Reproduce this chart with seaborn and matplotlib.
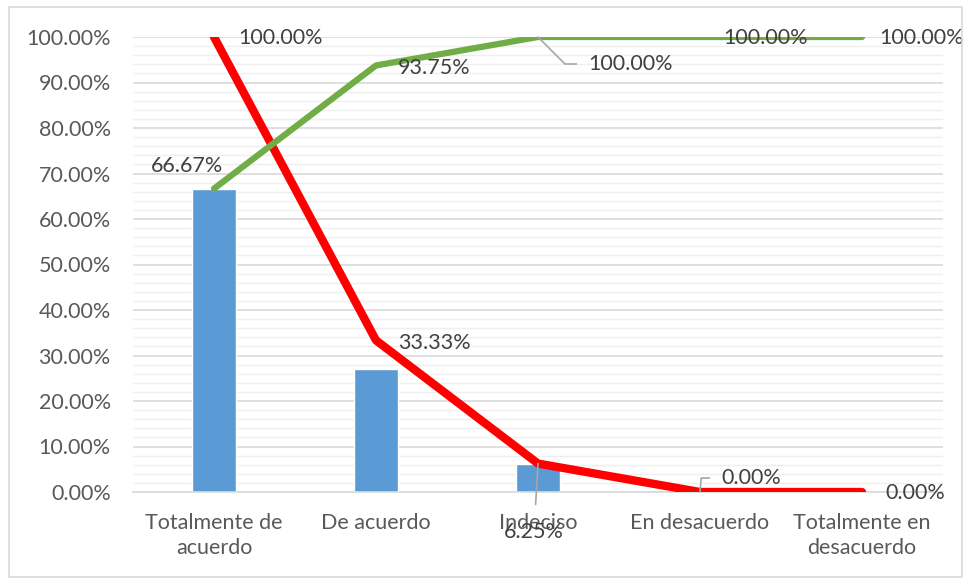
import numpy as np
import pandas as pd
import matplotlib.pyplot as plt
import seaborn as sns
from matplotlib.ticker import MultipleLocator, FixedLocator
from matplotlib.patches import Rectangle

# datos
categorias = ['Totalmente de\nacuerdo', 'De acuerdo', 'Indeciso', 'En desacuerdo', 'Totalmente en\ndesacuerdo']
porcentaje = [66.67, 27.08, 6.25, 0.00, 0.00]
acumulado = [66.67, 93.75, 100.00, 100.00, 100.00]
restante = [100.00, 33.33, 6.25, 0.00, 0.00]

df = pd.DataFrame({'cat': categorias, 'pct': porcentaje, 'acum': acumulado, 'rest': restante})

sns.set_style('white')
plt.rcParams['font.family'] = ['Lato', 'DejaVu Sans']

fig = plt.figure(figsize=(9.65, 5.79), dpi=100)
ax = fig.add_axes([133 / 965, 1 - 492 / 579, (943 - 133) / 965, (492 - 37) / 579])

# marco exterior
fig.patches.append(Rectangle((9 / 965, 2 / 579), 953 / 965, 570 / 579, transform=fig.transFigure,
                             fill=False, edgecolor='#d9d9d9', linewidth=1.2))

sns.barplot(data=df, x='cat', y='pct', color='#5B9BD5', width=0.27, saturation=1, ax=ax, zorder=2)
sns.lineplot(data=df, x='cat', y='rest', sort=False, color='#FF0000', linewidth=6,
             solid_capstyle='round', ax=ax, zorder=3)
sns.lineplot(data=df, x='cat', y='acum', sort=False, color='#70AD47', linewidth=4.5,
             solid_capstyle='round', ax=ax, zorder=4)

ax.set_xlim(-0.5, 4.5)
ax.set_ylim(0, 100)
ax.set_xlabel('')
ax.set_ylabel('')

ax.yaxis.set_minor_locator(MultipleLocator(2))
ax.set_yticks(np.arange(0, 101, 10))
ax.set_yticklabels([f'{v:.2f}%' for v in np.arange(0, 101, 10)])
ax.grid(axis='y', which='major', color='#d9d9d9', linewidth=1.2, zorder=0)
ax.grid(axis='y', which='minor', color='#efefef', linewidth=1.0, zorder=0)
ax.set_axisbelow(True)

ax.xaxis.set_minor_locator(FixedLocator(np.arange(-0.5, 4.6, 1)))
ax.tick_params(axis='x', which='major', length=0, pad=15, labelsize=15.5, labelcolor='#595959')
ax.tick_params(axis='x', which='minor', length=7, color='#d9d9d9', width=1.2)
ax.tick_params(axis='y', which='both', length=0, pad=16, labelsize=15.5, labelcolor='#595959')
for lab in ax.get_xticklabels():
    lab.set_linespacing(1.3)

for s in ['top', 'right', 'left']:
    ax.spines[s].set_visible(False)
ax.spines['bottom'].set_color('#d9d9d9')
ax.spines['bottom'].set_linewidth(1.2)

txt = dict(fontsize=15.5, color='#404040', textcoords='offset pixels', zorder=6)
gris = dict(arrowstyle='-', color='#a6a6a6', linewidth=1.2)

# etiquetas de las barras y lineas
ax.annotate(f'{porcentaje[0]:.2f}%', (0, porcentaje[0]), xytext=(-27, 23), ha='center', va='center', **txt)

ax.annotate(f'{restante[0]:.2f}%', (0, restante[0]), xytext=(24, -1), ha='left', va='center', **txt)
ax.annotate(f'{restante[1]:.2f}%', (1, restante[1]), xytext=(22, -3), ha='left', va='center', **txt)
ax.annotate(f'{restante[2]:.2f}%', (2, restante[2]), xytext=(-4, -68), ha='center', va='center',
            arrowprops=dict(**gris, shrinkA=10, shrinkB=0), **txt)
ax.annotate(f'{restante[3]:.2f}%', (3, restante[3]), xytext=(21, 14), ha='left', va='center',
            arrowprops=dict(**gris, shrinkA=6, shrinkB=0,
                            connectionstyle='angle,angleA=0,angleB=85,rad=0'), **txt)
ax.annotate(f'{restante[4]:.2f}%', (4, restante[4]), xytext=(23, -1), ha='left', va='center', **txt)

ax.annotate(f'{acumulado[1]:.2f}%', (1, acumulado[1]), xytext=(22, -3), ha='left', va='center', **txt)
ax.annotate(f'{acumulado[2]:.2f}%', (2, acumulado[2]), xytext=(50, -27), ha='left', va='center',
            arrowprops=dict(**gris, shrinkA=6, shrinkB=0,
                            connectionstyle='angle,angleA=0,angleB=-45,rad=0'), **txt)
ax.annotate(f'{acumulado[3]:.2f}%', (3, acumulado[3]), xytext=(23, -1), ha='left', va='center', **txt)
ax.annotate(f'{acumulado[4]:.2f}%', (4, acumulado[4]), xytext=(17, -1), ha='left', va='center', **txt)

fig.savefig('out.png', dpi=100)
